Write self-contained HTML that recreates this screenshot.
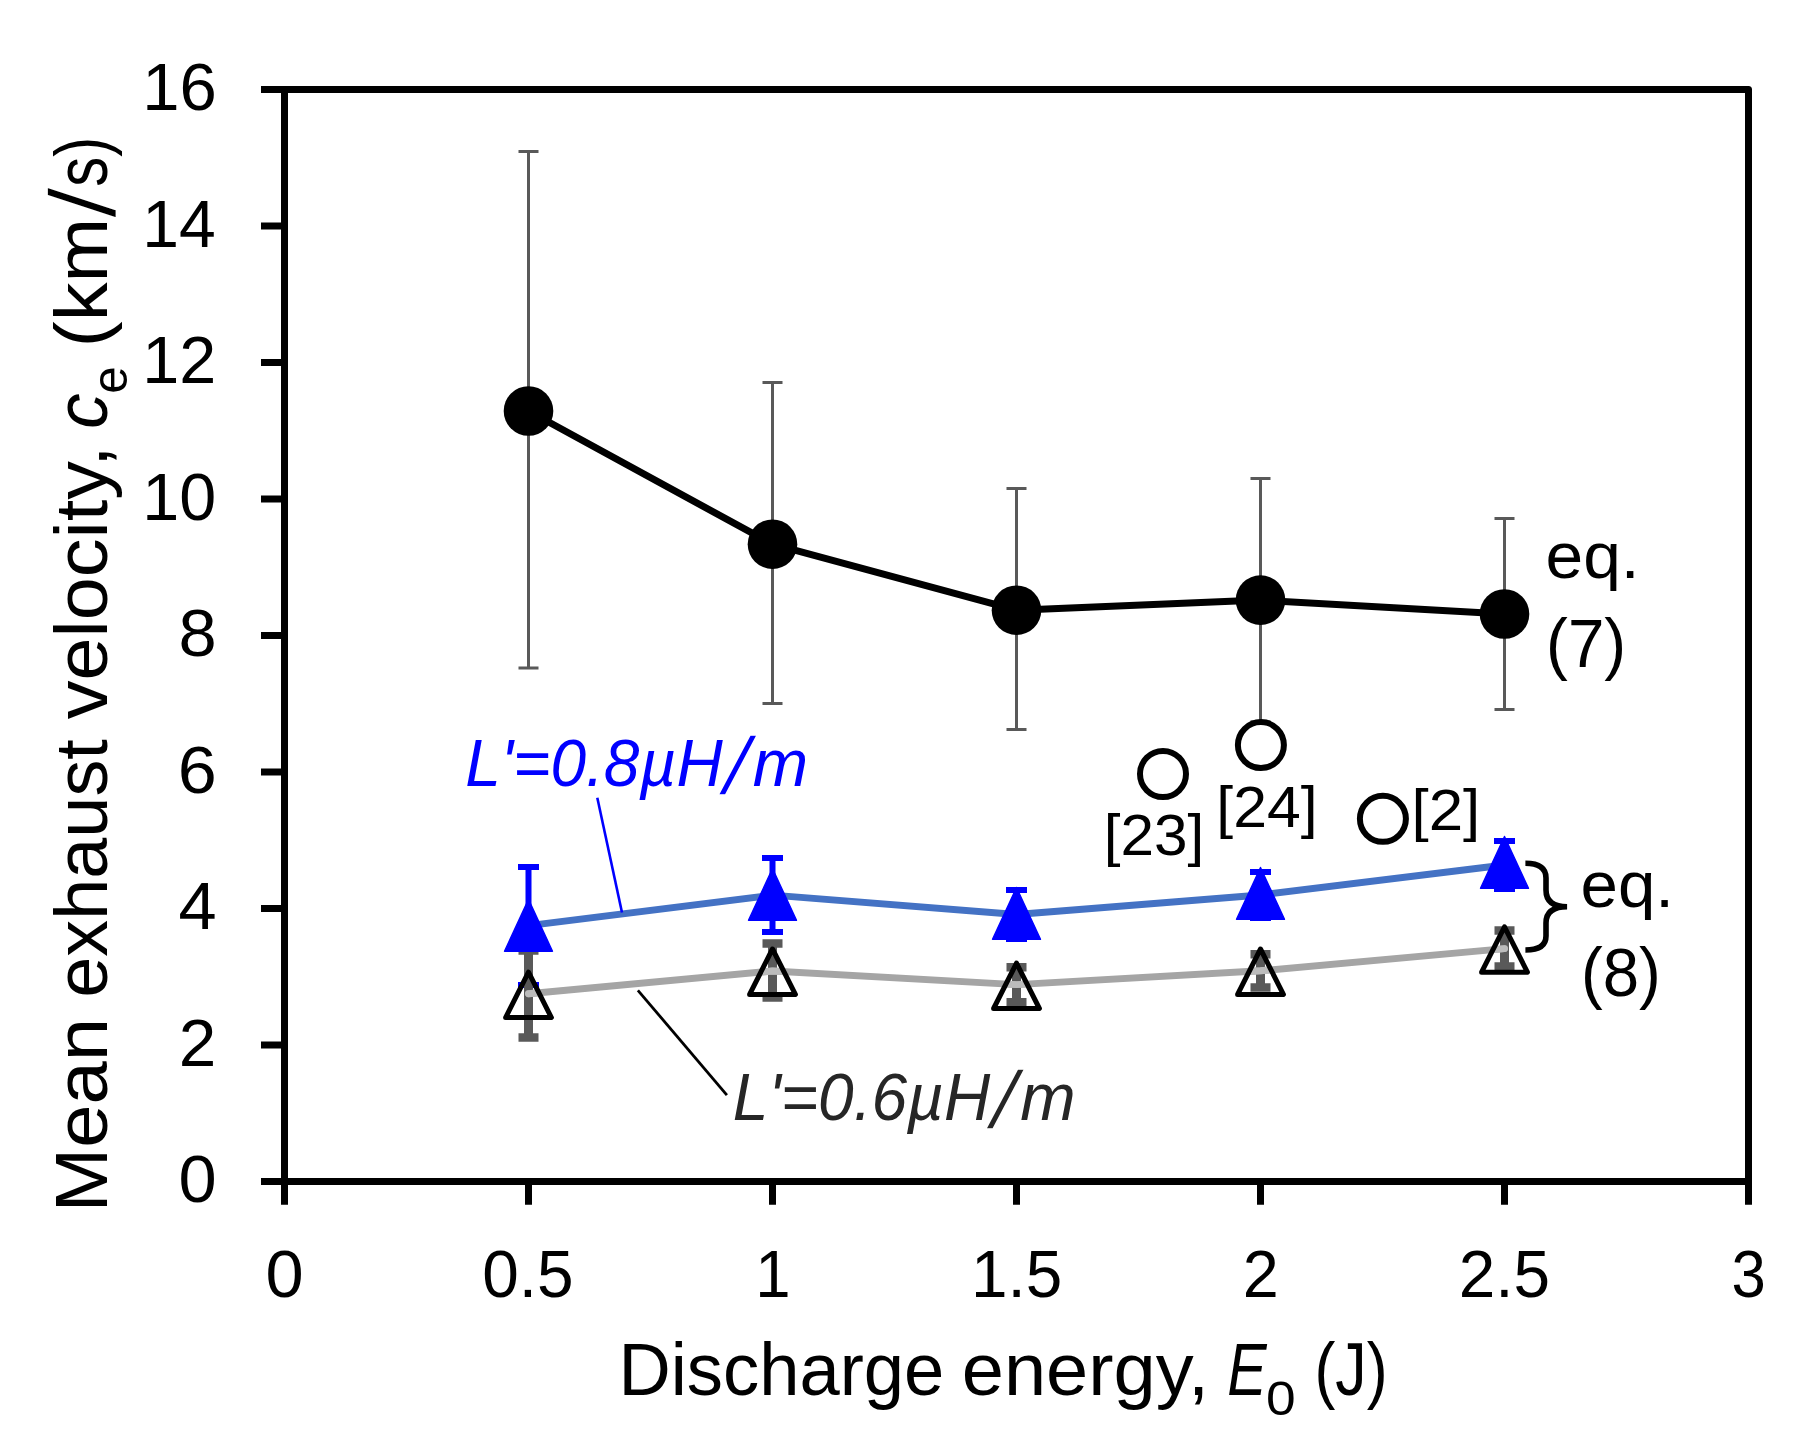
<!DOCTYPE html>
<html lang="en"><head><meta charset="utf-8"><title>Mean exhaust velocity vs discharge energy</title>
<style>
html,body{margin:0;padding:0;background:#fff;}
body{width:1819px;height:1429px;overflow:hidden;}
svg{display:block;}
text{font-family:'Liberation Sans',sans-serif;white-space:pre;}
</style></head><body>
<svg width="1819" height="1429" viewBox="0 0 1819 1429">
<rect width="1819" height="1429" fill="#fff"/>
<g stroke="#595959" stroke-width="3" fill="none">
<path d="M528.5,151.5V668"/>
<path d="M772.5,382.5V703.6"/>
<path d="M1016.5,488.6V729.6"/>
<path d="M1260.5,478.5V721.7"/>
<path d="M1504.5,518.5V709.5"/>
</g>
<g stroke="#595959" stroke-width="3" fill="none">
<path d="M518.5,151.5h20M518.5,668h20"/>
<path d="M762.5,382.5h20M762.5,703.6h20"/>
<path d="M1006.5,488.6h20M1006.5,729.6h20"/>
<path d="M1250.5,478.5h20M1250.5,721.7h20"/>
<path d="M1494.5,518.5h20M1494.5,709.5h20"/>
</g>
<polyline fill="none" stroke="#000" stroke-width="7" stroke-linejoin="round" points="528.5,411 772.5,544.2 1016.5,610.2 1260.5,600.1 1504.5,614"/>
<circle cx="528.5" cy="411" r="24.8" fill="#000"/>
<circle cx="772.5" cy="544.2" r="24.8" fill="#000"/>
<circle cx="1016.5" cy="610.2" r="24.8" fill="#000"/>
<circle cx="1260.5" cy="600.1" r="24.8" fill="#000"/>
<circle cx="1504.5" cy="614" r="24.8" fill="#000"/>
<polyline fill="none" stroke="#4472c4" stroke-width="6.9" stroke-linejoin="round" stroke-linecap="round" points="528.5,925.6 772.5,895.1 1016.5,914.5 1260.5,895 1504.5,865"/>
<g stroke="#0000ff" stroke-width="6" fill="none">
<path d="M528.5,867V985M518.0,867h21M518.0,985h21"/>
<path d="M772.5,858.1V932.1M762.0,858.1h21M762.0,932.1h21"/>
<path d="M1016.5,890V939M1006.0,890h21M1006.0,939h21"/>
<path d="M1260.5,872.1V918M1250.0,872.1h21M1250.0,918h21"/>
<path d="M1504.5,841V889M1494.0,841h21M1494.0,889h21"/>
</g>
<g stroke="#595959" fill="none">
<path stroke-width="9" d="M528.5,950.4V1037.4"/><path stroke-width="8.5" d="M518.5,950.4h20M518.5,1037.4h20"/>
<path stroke-width="9" d="M772.5,943.5V997.6"/><path stroke-width="8.5" d="M762.5,943.5h20M762.5,997.6h20"/>
<path stroke-width="9" d="M1016.5,967.3V1002.3"/><path stroke-width="8.5" d="M1006.5,967.3h20M1006.5,1002.3h20"/>
<path stroke-width="9" d="M1260.5,954.3V987.6"/><path stroke-width="8.5" d="M1250.5,954.3h20M1250.5,987.6h20"/>
<path stroke-width="9" d="M1504.5,930.5V966.5"/><path stroke-width="8.5" d="M1494.5,930.5h20M1494.5,966.5h20"/>
</g>
<path d="M528.5,899.4L552.5,951.1999999999999H504.5Z" fill="#0000ff" stroke="#0000ff" stroke-width="1.4" stroke-linejoin="round"/>
<path d="M772.5,868.5L796.5,920.3H748.5Z" fill="#0000ff" stroke="#0000ff" stroke-width="1.4" stroke-linejoin="round"/>
<path d="M1016.5,887.5L1040.5,939.3H992.5Z" fill="#0000ff" stroke="#0000ff" stroke-width="1.4" stroke-linejoin="round"/>
<path d="M1260.5,867.5L1284.5,919.3H1236.5Z" fill="#0000ff" stroke="#0000ff" stroke-width="1.4" stroke-linejoin="round"/>
<path d="M1504.5,836.5L1528.5,888.3H1480.5Z" fill="#0000ff" stroke="#0000ff" stroke-width="1.4" stroke-linejoin="round"/>
<polyline fill="none" stroke="#a5a5a5" stroke-width="6.9" stroke-linejoin="round" stroke-linecap="round" points="528.5,993.7 772.5,971 1016.5,984.6 1260.5,970.8 1504.5,948.6"/>
<defs><clipPath id="tc">
<path d="M528.5,972.2L551.4,1017.6H505.6Z"/>
<path d="M772.5,949.0L795.4,994.4H749.6Z"/>
<path d="M1016.5,963.1L1039.4,1008.5H993.6Z"/>
<path d="M1260.5,949.0L1283.4,994.4H1237.6Z"/>
<path d="M1504.5,926.8L1527.4,972.1999999999999H1481.6Z"/>
</clipPath></defs>
<polyline clip-path="url(#tc)" fill="none" stroke="#bcbcbc" stroke-width="6.9" stroke-linejoin="round" stroke-linecap="round" points="528.5,993.7 772.5,971 1016.5,984.6 1260.5,970.8 1504.5,948.6"/>
<path d="M528.5,972.2L551.4,1017.6H505.6Z" fill="none" stroke="#000" stroke-width="5" stroke-linejoin="round"/>
<path d="M772.5,949.0L795.4,994.4H749.6Z" fill="none" stroke="#000" stroke-width="5" stroke-linejoin="round"/>
<path d="M1016.5,963.1L1039.4,1008.5H993.6Z" fill="none" stroke="#000" stroke-width="5" stroke-linejoin="round"/>
<path d="M1260.5,949.0L1283.4,994.4H1237.6Z" fill="none" stroke="#000" stroke-width="5" stroke-linejoin="round"/>
<path d="M1504.5,926.8L1527.4,972.1999999999999H1481.6Z" fill="none" stroke="#000" stroke-width="5" stroke-linejoin="round"/>
<circle cx="1163" cy="774" r="23" fill="#fff" stroke="#000" stroke-width="6"/>
<circle cx="1260.9" cy="745.1" r="23" fill="#fff" stroke="#000" stroke-width="6"/>
<circle cx="1382.9" cy="818.8" r="23" fill="#fff" stroke="#000" stroke-width="6"/>
<path d="M597.3,797.7L622,912.4" stroke="#0000ff" stroke-width="2.6" fill="none"/>
<path d="M637.9,990.3L726.9,1095.1" stroke="#000" stroke-width="2.8" fill="none"/>
<path d="M1525.4,863.3Q1546,863.3 1546,878L1546,890Q1546,906.7 1567.1,906.7Q1546,906.7 1546,923L1546,936Q1546,950 1525.4,950" stroke="#000" stroke-width="5.6" fill="none"/>
<g stroke="#000" stroke-width="7" fill="none">
<rect x="284.5" y="89.5" width="1464.0" height="1092.0" stroke-linejoin="round"/>
<path d="M261,89.5H284.5M261,226.0H284.5M261,362.5H284.5M261,499.0H284.5M261,635.5H284.5M261,772.0H284.5M261,908.5H284.5M261,1045.0H284.5M261,1181.5H284.5M284.5,1181.5V1204.7M528.5,1181.5V1204.7M772.5,1181.5V1204.7M1016.5,1181.5V1204.7M1260.5,1181.5V1204.7M1504.5,1181.5V1204.7M1748.5,1181.5V1204.7"/>
</g>
<g>
<text x="142.20" y="110.30" textLength="74.53" lengthAdjust="spacingAndGlyphs" fill="#000" style="font-size:67px;">16</text>
<text x="142.27" y="246.80" textLength="73.43" lengthAdjust="spacingAndGlyphs" fill="#000" style="font-size:67px;">14</text>
<text x="142.23" y="383.30" textLength="74.03" lengthAdjust="spacingAndGlyphs" fill="#000" style="font-size:67px;">12</text>
<text x="142.24" y="519.80" textLength="73.98" lengthAdjust="spacingAndGlyphs" fill="#000" style="font-size:67px;">10</text>
<text x="178.43" y="656.30" textLength="38.16" lengthAdjust="spacingAndGlyphs" fill="#000" style="font-size:67px;">8</text>
<text x="177.83" y="792.80" textLength="39.02" lengthAdjust="spacingAndGlyphs" fill="#000" style="font-size:67px;">6</text>
<text x="178.47" y="929.30" textLength="38.09" lengthAdjust="spacingAndGlyphs" fill="#000" style="font-size:67px;">4</text>
<text x="178.72" y="1065.80" textLength="37.57" lengthAdjust="spacingAndGlyphs" fill="#000" style="font-size:67px;">2</text>
<text x="178.44" y="1202.30" textLength="38.13" lengthAdjust="spacingAndGlyphs" fill="#000" style="font-size:67px;">0</text>
<text x="265.44" y="1297.40" textLength="38.13" lengthAdjust="spacingAndGlyphs" fill="#000" style="font-size:67px;">0</text>
<text x="482.25" y="1297.40" textLength="91.39" lengthAdjust="spacingAndGlyphs" fill="#000" style="font-size:67px;">0.5</text>
<text x="755.26" y="1297.40" textLength="35.34" lengthAdjust="spacingAndGlyphs" fill="#000" style="font-size:67px;">1</text>
<text x="970.90" y="1297.40" textLength="91.34" lengthAdjust="spacingAndGlyphs" fill="#000" style="font-size:67px;">1.5</text>
<text x="1242.76" y="1297.40" textLength="35.99" lengthAdjust="spacingAndGlyphs" fill="#000" style="font-size:67px;">2</text>
<text x="1458.71" y="1297.40" textLength="91.32" lengthAdjust="spacingAndGlyphs" fill="#000" style="font-size:67px;">2.5</text>
<text x="1731.60" y="1297.40" textLength="34.27" lengthAdjust="spacingAndGlyphs" fill="#000" style="font-size:67px;">3</text>
<text x="618.53" y="1395.00" textLength="325.80" lengthAdjust="spacingAndGlyphs" fill="#000" style="font-size:74px;">Discharge</text>
<text x="961.77" y="1395.00" textLength="247.29" lengthAdjust="spacingAndGlyphs" fill="#000" style="font-size:74px;">energy,</text>
<text x="1227.30" y="1395.00" textLength="39.38" lengthAdjust="spacingAndGlyphs" fill="#000" style="font-size:74px;font-style:italic;">E</text>
<text x="1266.12" y="1415.00" textLength="29.67" lengthAdjust="spacingAndGlyphs" fill="#000" style="font-size:49px;">0</text>
<text x="1314.38" y="1395.00" textLength="73.17" lengthAdjust="spacingAndGlyphs" fill="#000" style="font-size:74px;">(J)</text>
<text x="1545.49" y="578.20" textLength="94.12" lengthAdjust="spacingAndGlyphs" fill="#000" style="font-size:64px;">eq.</text>
<text x="1546.11" y="666.70" textLength="80.05" lengthAdjust="spacingAndGlyphs" fill="#000" style="font-size:68px;">(7)</text>
<text x="1580.51" y="906.50" textLength="93.46" lengthAdjust="spacingAndGlyphs" fill="#000" style="font-size:64px;">eq.</text>
<text x="1581.02" y="996.00" textLength="79.83" lengthAdjust="spacingAndGlyphs" fill="#000" style="font-size:68px;">(8)</text>
<text x="1103.78" y="855.00" textLength="100.53" lengthAdjust="spacingAndGlyphs" fill="#000" style="font-size:58px;">[23]</text>
<text x="1216.35" y="826.60" textLength="101.30" lengthAdjust="spacingAndGlyphs" fill="#000" style="font-size:58px;">[24]</text>
<text x="1411.47" y="829.50" textLength="68.76" lengthAdjust="spacingAndGlyphs" fill="#000" style="font-size:58px;">[2]</text>
<text x="465.19" y="785.80" textLength="257.47" lengthAdjust="spacingAndGlyphs" fill="#0000ff" style="font-size:67px;font-style:italic;">L'=0.8µH</text>
<text x="723.48" y="793.90" textLength="25.76" lengthAdjust="spacingAndGlyphs" fill="#0000ff" stroke="#fff" stroke-width="1.3" style="font-size:82px;font-style:italic;">/</text>
<text x="752.76" y="785.80" textLength="55.38" lengthAdjust="spacingAndGlyphs" fill="#0000ff" style="font-size:67px;font-style:italic;">m</text>
<text x="732.79" y="1120.20" textLength="257.47" lengthAdjust="spacingAndGlyphs" fill="#262626" style="font-size:67px;font-style:italic;">L'=0.6µH</text>
<text x="991.08" y="1128.30" textLength="25.76" lengthAdjust="spacingAndGlyphs" fill="#262626" stroke="#fff" stroke-width="1.3" style="font-size:82px;font-style:italic;">/</text>
<text x="1020.36" y="1120.20" textLength="55.38" lengthAdjust="spacingAndGlyphs" fill="#262626" style="font-size:67px;font-style:italic;">m</text>
</g>
<g transform="translate(106.7,0) rotate(-90)">
<text x="-1212.47" y="0.00" textLength="194.32" lengthAdjust="spacingAndGlyphs" fill="#000" style="font-size:75px;">Mean</text>
<text x="-997.70" y="0.00" textLength="258.53" lengthAdjust="spacingAndGlyphs" fill="#000" style="font-size:75px;">exhaust</text>
<text x="-719.26" y="0.00" textLength="273.84" lengthAdjust="spacingAndGlyphs" fill="#000" style="font-size:75px;">velocity,</text>
<text x="-428.66" y="0.00" textLength="35.36" lengthAdjust="spacingAndGlyphs" fill="#000" style="font-size:75px;font-style:italic;">c</text>
<text x="-393.83" y="20.30" textLength="27.51" lengthAdjust="spacingAndGlyphs" fill="#000" style="font-size:50px;">e</text>
<text x="-347.22" y="0.00" textLength="129.34" lengthAdjust="spacingAndGlyphs" fill="#000" style="font-size:75px;">(km</text>
<text x="-218.50" y="9.20" textLength="31.69" lengthAdjust="spacingAndGlyphs" fill="#000" stroke="#fff" stroke-width="1.7" style="font-size:95px;">/</text>
<text x="-186.80" y="0.00" textLength="49.99" lengthAdjust="spacingAndGlyphs" fill="#000" style="font-size:75px;">s)</text>
</g>
</svg></body></html>
